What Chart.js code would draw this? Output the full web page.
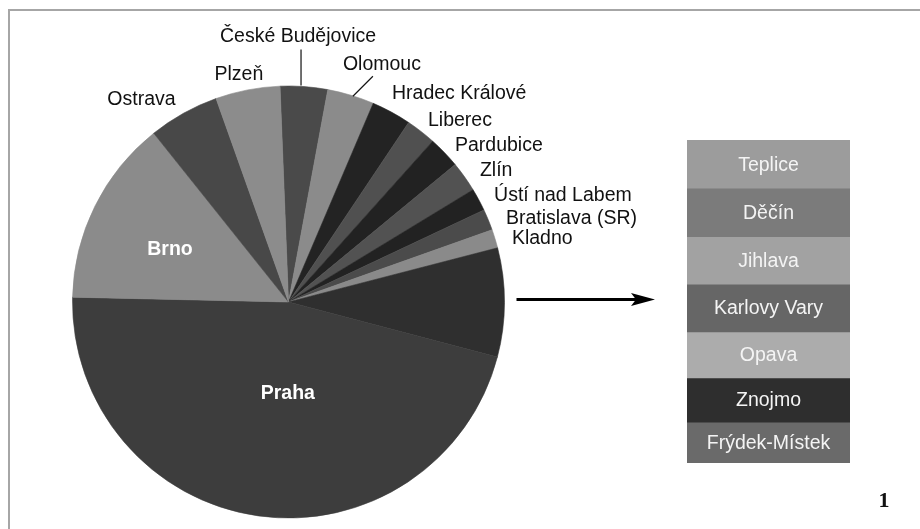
<!DOCTYPE html>
<html><head><meta charset="utf-8">
<script src="https://cdn.jsdelivr.net/npm/chart.js@4/dist/chart.umd.min.js"></script>
<style>
html,body{margin:0;padding:0;background:#fff;}
#wrap{position:relative;width:920px;height:529px;overflow:hidden;background:#fff;}
#frame{position:absolute;left:8px;top:9px;width:930px;height:540px;border-top:2px solid #a6a6a6;border-left:2px solid #a6a6a6;}
#pie{position:absolute;left:0;top:0;}
#bar{position:absolute;left:687px;top:140px;}
</style></head>
<body>
<div id="wrap"><div id="frame"></div><canvas id="pie" width="920" height="529"></canvas><canvas id="bar" width="163" height="323"></canvas></div>
<script>
// ---- data (shares in %) ----
const pieCategories = ['České Budějovice','Olomouc','Hradec Králové','Liberec','Pardubice','Zlín','Ústí nad Labem','Bratislava (SR)','Kladno','Ostatní','Praha','Brno','Ostrava','Plzeň'];
const pieValues = [3.54, 3.50, 2.97, 2.25, 2.39, 2.28, 1.69, 1.58, 1.39, 8.14, 46.25, 13.92, 5.28, 4.82];
const pieColors = ['#4a4a4a','#8b8b8b','#232323','#505050','#222222','#525252','#222222','#4b4b4b','#8a8a8a','#2f2f2f','#3d3d3d','#8b8b8b','#484848','#8c8c8c'];

const barCategories = ['Teplice','Děčín','Jihlava','Karlovy Vary','Opava','Znojmo','Frýdek-Místek'];
const barValues = [1.22, 1.22, 1.20, 1.21, 1.16, 1.12, 1.03];
const barColors = ['#9c9c9c','#7b7b7b','#a2a2a2','#666666','#acacac','#2e2e2e','#6a6a6a'];

const pageMark = '1';

// ---- label placement (relative to slice edge or pie centre) ----
const labelLayout = {
  'České Budějovice': {ref:'edge', dx:-6, dy:-44.6, align:'center', leader:[-3,-1,-3,-37]},
  'Olomouc':          {ref:'edge', dx:31, dy:-25.3, align:'center', leader:[2,1,22,-19]},
  'Hradec Králové':   {ref:'edge', dx:0.6, dy:-13.1, align:'left'},
  'Liberec':          {ref:'edge', dx:7, dy:-5.7, align:'left'},
  'Pardubice':        {ref:'edge', dx:10.6, dy:-1.8, align:'left'},
  'Zlín':             {ref:'edge', dx:15.4, dy:-0.9, align:'left'},
  'Ústí nad Labem':   {ref:'edge', dx:15.3, dy:0.9, align:'left'},
  'Bratislava (SR)':  {ref:'edge', dx:17.7, dy:4.1, align:'left'},
  'Kladno':           {ref:'edge', dx:16.9, dy:5.2, align:'left'},
  'Praha':            {ref:'centre', dx:-0.7, dy:97, align:'center', inside:true},
  'Brno':             {ref:'centre', dx:-118.5, dy:-47, align:'center', inside:true},
  'Ostrava':          {ref:'edge', dx:-42, dy:-8.3, align:'center'},
  'Plzeň':            {ref:'edge', dx:-8.7, dy:-9.9, align:'center'}
};

const FONT = '"Liberation Sans", Arial, sans-serif';

const pieLabelPlugin = {
  id: 'pieLabels',
  afterDatasetsDraw(chart) {
    const ctx = chart.ctx;
    const meta = chart.getDatasetMeta(0);
    ctx.save();
    ctx.textBaseline = 'alphabetic';
    let otherEdge = null;
    meta.data.forEach((arc, i) => {
      const p = arc.getProps(['x','y','startAngle','endAngle','outerRadius'], true);
      const mid = (p.startAngle + p.endAngle) / 2;
      const ex = p.x + Math.cos(mid) * p.outerRadius;
      const ey = p.y + Math.sin(mid) * p.outerRadius;
      const name = pieCategories[i];
      if (name === 'Ostatní') { otherEdge = {x: ex, y: ey}; return; }
      const L = labelLayout[name];
      if (!L) return;
      const bx = L.ref === 'edge' ? ex : p.x;
      const by = L.ref === 'edge' ? ey : p.y;
      if (L.leader) {
        ctx.strokeStyle = '#111';
        ctx.lineWidth = 1.2;
        ctx.beginPath();
        ctx.moveTo(ex + L.leader[0], ey + L.leader[1]);
        ctx.lineTo(ex + L.leader[2], ey + L.leader[3]);
        ctx.stroke();
      }
      ctx.font = (L.inside ? 'bold ' : '') + '19.5px ' + FONT;
      ctx.fillStyle = L.inside ? '#ffffff' : '#111111';
      ctx.textAlign = L.align;
      ctx.fillText(name, bx + L.dx, by + L.dy);
    });
    // arrow from the "other" slice to the bar
    if (otherEdge) {
      const y = otherEdge.y - 3;
      const x0 = otherEdge.x + 12, x1 = 655;
      ctx.strokeStyle = '#000'; ctx.fillStyle = '#000';
      ctx.lineWidth = 3;
      ctx.beginPath(); ctx.moveTo(x0, y); ctx.lineTo(x1 - 18, y); ctx.stroke();
      ctx.beginPath();
      ctx.moveTo(x1, y); ctx.lineTo(x1 - 24, y - 6.5); ctx.lineTo(x1 - 19, y); ctx.lineTo(x1 - 24, y + 6.5);
      ctx.closePath(); ctx.fill();
    }
    // page number
    ctx.font = 'bold 22px "Liberation Serif", "DejaVu Serif", serif';
    ctx.fillStyle = '#111';
    ctx.textAlign = 'center';
    ctx.fillText(pageMark, 884, 507);
    ctx.restore();
  }
};

new Chart(document.getElementById('pie'), {
  type: 'pie',
  data: {
    labels: pieCategories,
    datasets: [{
      data: pieValues,
      backgroundColor: pieColors,
      borderColor: pieColors,
      borderWidth: 0.6,
      hoverOffset: 0
    }]
  },
  options: {
    responsive: false,
    animation: false,
    devicePixelRatio: 1,
    rotation: -2.25,
    radius: 216,
    layout: {padding: {left: 72, right: 415, top: 86, bottom: 11}},
    plugins: {legend: {display: false}, tooltip: {enabled: false}},
    events: []
  },
  plugins: [pieLabelPlugin]
});

const barTotal = barValues.reduce((a, b) => a + b, 0);

const barLabelPlugin = {
  id: 'barLabels',
  afterDatasetsDraw(chart) {
    const ctx = chart.ctx;
    ctx.save();
    ctx.font = '19.5px ' + FONT;
    ctx.fillStyle = '#f4f4f4';
    ctx.textAlign = 'center';
    ctx.textBaseline = 'middle';
    chart.data.datasets.forEach((ds, i) => {
      const el = chart.getDatasetMeta(i).data[0];
      const p = el.getProps(['x','y','base'], true);
      ctx.fillText(ds.label, p.x, (p.y + p.base) / 2 + 1);
    });
    ctx.restore();
  }
};

new Chart(document.getElementById('bar'), {
  type: 'bar',
  data: {
    labels: [''],
    datasets: barCategories.map((c, i) => ({
      label: c,
      data: [barValues[i]],
      backgroundColor: barColors[i],
      borderWidth: 0,
      barPercentage: 1,
      categoryPercentage: 1,
      stack: 's'
    }))
  },
  options: {
    responsive: false,
    animation: false,
    devicePixelRatio: 1,
    layout: {padding: 0},
    scales: {
      x: {stacked: true, display: false},
      y: {stacked: true, display: false, min: 0, max: barTotal, reverse: true}
    },
    plugins: {legend: {display: false}, tooltip: {enabled: false}},
    events: []
  },
  plugins: [barLabelPlugin]
});
</script>
</body></html>
